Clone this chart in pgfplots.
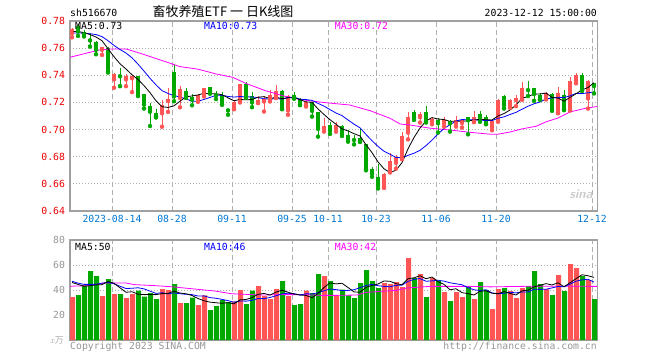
\documentclass[border=0pt]{standalone}
\usepackage{fontspec}
\usepackage{pgfplots}
\usepackage{pgfplotstable}
\pgfplotsset{compat=1.18}
\setmonofont{DejaVu Sans Mono}
\newfontfamily\cjk{Noto Sans CJK SC}
\definecolor{cred}{RGB}{255,85,85}
\definecolor{cgreen}{RGB}{0,168,0}
\definecolor{cframe}{RGB}{160,160,160}
\definecolor{cgrid}{RGB}{175,175,175}
\definecolor{cblue}{RGB}{0,0,255}
\definecolor{cmag}{RGB}{255,0,255}
\definecolor{ctick}{RGB}{0,120,210}
\definecolor{cylab}{RGB}{235,0,0}
\definecolor{cgray}{RGB}{150,150,150}
\newcommand\mf{\fontsize{9.8}{10}\selectfont\ttfamily}

\pgfplotstableread{
x O H L C V
0 0.7711 0.7746 0.7680 0.7740 34.4
5 0.7588 0.7612 0.7550 0.7605 35.2
7 0.7370 0.7415 0.7308 0.7410 36.8
9 0.7370 0.7410 0.7320 0.7395 33.6
10 0.7378 0.7405 0.7276 0.7392 36.8
15 0.7120 0.7218 0.7021 0.7181 40.8
16 0.7211 0.7310 0.7130 0.7223 40.0
18 0.7233 0.7319 0.7164 0.7301 29.6
21 0.7207 0.7260 0.7205 0.7257 28.0
22 0.7262 0.7310 0.7244 0.7309 35.7
27 0.7153 0.7220 0.7150 0.7200 31.0
28 0.7207 0.7338 0.7200 0.7333 40.0
31 0.7200 0.7249 0.7195 0.7220 43.2
32 0.7207 0.7244 0.7133 0.7225 35.2
33 0.7225 0.7289 0.7207 0.7257 32.8
34 0.7244 0.7331 0.7232 0.7286 40.8
36 0.7141 0.7257 0.7109 0.7249 35.2
39 0.7178 0.7215 0.7170 0.7202 39.5
42 0.7005 0.7084 0.6985 0.7027 51.2
44 0.7010 0.7059 0.6985 0.7034 35.7
52 0.6578 0.6681 0.6570 0.6671 45.6
53 0.6689 0.6824 0.6684 0.6768 44.8
54 0.6755 0.6812 0.6713 0.6800 46.4
55 0.6787 0.6985 0.6782 0.6953 42.4
56 0.6978 0.7126 0.6928 0.7096 65.6
58 0.7091 0.7133 0.7052 0.7116 52.8
60 0.7059 0.7096 0.7039 0.7076 49.6
62 0.7042 0.7096 0.7022 0.7071 38.4
64 0.7047 0.7101 0.7022 0.7071 38.4
65 0.7049 0.7081 0.7015 0.7069 34.4
67 0.7057 0.7138 0.7055 0.7089 32.8
70 0.7015 0.7065 0.6995 0.7062 24.8
71 0.7064 0.7227 0.7057 0.7217 40.8
73 0.7168 0.7222 0.7160 0.7217 39.2
74 0.7217 0.7254 0.7173 0.7230 33.6
75 0.7222 0.7353 0.7220 0.7304 41.6
79 0.7225 0.7279 0.7222 0.7267 40.8
81 0.7123 0.7316 0.7120 0.7267 52.0
83 0.7143 0.7390 0.7140 0.7358 60.8
84 0.7360 0.7420 0.7341 0.7402 57.6
86 0.7230 0.7365 0.7155 0.7358 48.0
}\up

\pgfplotstableread{
x O H L C V
1 0.7760 0.7780 0.7690 0.7723 36.0
2 0.7716 0.7731 0.7686 0.7701 43.7
3 0.7669 0.7711 0.7612 0.7657 55.2
4 0.7642 0.7650 0.7555 0.7588 51.2
6 0.7600 0.7605 0.7420 0.7427 48.8
8 0.7401 0.7452 0.7320 0.7393 36.8
11 0.7395 0.7398 0.7247 0.7254 39.5
12 0.7262 0.7265 0.7155 0.7185 34.7
13 0.7174 0.7198 0.7026 0.7132 37.6
14 0.7125 0.7152 0.7089 0.7095 32.8
17 0.7427 0.7478 0.7209 0.7245 44.8
19 0.7282 0.7307 0.7233 0.7253 29.6
20 0.7242 0.7262 0.7179 0.7220 34.0
23 0.7314 0.7316 0.7264 0.7281 24.0
24 0.7262 0.7281 0.7225 0.7252 27.2
25 0.7252 0.7277 0.7183 0.7185 32.0
26 0.7153 0.7155 0.7109 0.7141 30.4
29 0.7338 0.7348 0.7235 0.7237 28.8
30 0.7244 0.7277 0.7165 0.7200 39.5
35 0.7286 0.7294 0.7150 0.7153 47.2
37 0.7257 0.7277 0.7227 0.7232 28.0
38 0.7227 0.7230 0.7180 0.7183 28.8
40 0.7200 0.7202 0.7096 0.7138 37.6
41 0.7126 0.7128 0.6948 0.7005 52.8
43 0.7034 0.7059 0.6968 0.6992 47.2
45 0.7027 0.7034 0.6953 0.6968 40.3
46 0.6960 0.6997 0.6911 0.6931 35.7
47 0.6931 0.6960 0.6891 0.6923 33.6
48 0.6936 0.7010 0.6909 0.6911 45.6
49 0.6894 0.6896 0.6700 0.6708 56.0
50 0.6708 0.6725 0.6652 0.6676 47.2
51 0.6652 0.6750 0.6566 0.6590 41.6
57 0.7126 0.7141 0.7071 0.7091 49.6
59 0.7126 0.7175 0.7052 0.7059 34.4
61 0.7071 0.7084 0.6978 0.7047 47.2
63 0.7066 0.7071 0.6985 0.7047 31.2
66 0.7089 0.7091 0.6965 0.7069 43.2
68 0.7113 0.7136 0.7057 0.7089 46.4
69 0.7089 0.7106 0.7039 0.7044 40.0
72 0.7247 0.7254 0.7155 0.7180 41.6
76 0.7299 0.7358 0.7247 0.7291 43.2
77 0.7304 0.7306 0.7212 0.7262 55.2
78 0.7254 0.7267 0.7219 0.7222 44.8
80 0.7259 0.7272 0.7138 0.7143 36.0
82 0.7254 0.7291 0.7143 0.7148 39.2
85 0.7402 0.7415 0.7285 0.7286 51.2
87 0.7341 0.7346 0.7267 0.7321 32.8
}\down

\pgfplotstableread{
x ma5 ma10 vma5 vma10
0 0.7722 0.7712 46.0 47.0
1 0.7722 0.7712 44.5 45.5
2 0.7715 0.7710 43.0 44.5
3 0.7700 0.7706 43.5 44.5
4 0.7682 0.7700 44.1 44.5
5 0.7655 0.7685 44.3 45.5
6 0.7596 0.7655 46.8 46.0
7 0.7537 0.7620 45.4 45.0
8 0.7485 0.7590 41.8 43.0
9 0.7446 0.7564 38.2 41.2
10 0.7404 0.7529 38.6 41.4
11 0.7369 0.7482 36.7 41.8
12 0.7324 0.7431 36.3 40.9
13 0.7272 0.7378 36.4 39.1
14 0.7212 0.7329 36.3 37.3
15 0.7169 0.7287 37.1 37.8
16 0.7163 0.7266 37.2 36.9
17 0.7175 0.7250 39.2 37.7
18 0.7209 0.7240 37.6 37.0
19 0.7241 0.7226 37.0 36.6
20 0.7248 0.7209 35.6 36.3
21 0.7255 0.7209 33.2 35.2
22 0.7268 0.7222 31.4 35.3
23 0.7264 0.7237 30.3 33.9
24 0.7264 0.7252 29.8 33.4
25 0.7257 0.7253 29.4 32.5
26 0.7234 0.7244 29.9 31.5
27 0.7212 0.7240 28.9 30.2
28 0.7222 0.7243 32.1 31.2
29 0.7219 0.7242 32.4 31.1
30 0.7222 0.7240 33.9 31.7
31 0.7238 0.7236 36.5 33.2
32 0.7243 0.7227 37.3 33.1
33 0.7228 0.7225 35.9 34.0
34 0.7238 0.7228 38.3 35.4
35 0.7228 0.7225 39.8 36.9
36 0.7234 0.7236 38.2 37.4
37 0.7235 0.7239 36.8 37.1
38 0.7221 0.7224 36.0 36.0
39 0.7204 0.7221 35.7 37.0
40 0.7201 0.7215 33.8 36.8
41 0.7152 0.7193 37.3 37.8
42 0.7111 0.7173 42.0 39.4
43 0.7073 0.7147 45.7 40.8
44 0.7039 0.7122 44.9 40.3
45 0.7005 0.7103 45.4 39.6
46 0.6990 0.7071 42.0 39.7
47 0.6970 0.7040 38.5 40.2
48 0.6953 0.7013 38.2 41.9
49 0.6888 0.6964 42.2 43.6
50 0.6830 0.6918 43.6 44.5
51 0.6762 0.6876 44.8 43.4
52 0.6711 0.6840 47.2 42.9
53 0.6683 0.6818 47.0 42.6
54 0.6701 0.6795 45.1 43.7
55 0.6756 0.6793 44.2 43.9
56 0.6858 0.6810 49.0 46.9
57 0.6942 0.6826 49.8 48.5
58 0.7011 0.6847 51.4 49.2
59 0.7063 0.6882 49.0 47.0
60 0.7088 0.6922 50.4 47.3
61 0.7078 0.6968 46.7 47.8
62 0.7074 0.7008 44.5 47.1
63 0.7060 0.7036 40.2 45.8
64 0.7062 0.7063 41.0 45.0
65 0.7061 0.7074 37.9 44.2
66 0.7065 0.7072 37.1 41.9
67 0.7069 0.7071 36.0 40.2
68 0.7077 0.7069 39.0 39.6
69 0.7072 0.7067 39.4 40.2
70 0.7071 0.7066 37.4 37.7
71 0.7100 0.7083 37.0 37.0
72 0.7118 0.7094 38.7 37.4
73 0.7144 0.7111 37.3 38.2
74 0.7181 0.7127 36.0 37.7
75 0.7230 0.7150 39.4 38.4
76 0.7244 0.7172 39.8 38.4
77 0.7261 0.7190 42.6 40.6
78 0.7262 0.7203 43.7 40.5
79 0.7269 0.7225 45.1 40.6
80 0.7237 0.7233 44.0 41.7
81 0.7232 0.7238 45.8 42.8
82 0.7209 0.7235 42.6 42.6
83 0.7237 0.7249 45.8 44.7
84 0.7264 0.7266 49.1 47.1
85 0.7292 0.7265 52.2 48.1
86 0.7310 0.7271 51.4 48.6
87 0.7345 0.7277 50.1 46.3
}\ma

\pgfplotsset{
  chartbase/.style={
    scale only axis, width=527.5pt,
    xmin=-0.3333, xmax=87.5833,
    axis line style={cframe, line width=1.4pt},
    tick style={draw=none},
    xtick={6.6667,16.6667,26.6667,36.6667,42.6667,50.6667,60.6667,70.6667,86.6667},
    xmajorgrids, ymajorgrids,
    x grid style={cgrid, line width=1pt, dash pattern=on 5pt off 3pt},
    y grid style={cgrid, line width=0.8pt, dash pattern=on 1pt off 2pt},
    yticklabel style={font=\mf, anchor=east, xshift=-1.5pt},
  },
  wick/.style={only marks, mark=none, color=#1,
    error bars/.cd, y dir=plus, y explicit, error mark=none,
    error bar style={draw=#1, line width=1pt}},
  body/.style={only marks, mark=none, color=#1,
    error bars/.cd, y dir=plus, y explicit, error mark=none,
    error bar style={draw=#1, line width=4.2pt}},
}

\begin{document}
\begin{tikzpicture}
\path[use as bounding box] (0,0) rectangle (660pt,360pt);

\begin{axis}[chartbase, at={(70pt,149pt)}, anchor=south west, height=190pt,
  ymin=0.64, ymax=0.78,
  ytick={0.64,0.66,0.68,0.70,0.72,0.74,0.76,0.78},
  yticklabels={0.64,0.66,0.68,0.70,0.72,0.74,0.76,0.78},
  yticklabel style={text=cylab},
  xticklabels={2023-08-14,08-28,09-11,09-25,10-11,10-23,11-06,11-20,12-12},
  xticklabel style={font=\mf, text=ctick, yshift=-1pt},
]
\addplot[wick=cred] table[x=x, y=L, y error expr=\thisrow{H}-\thisrow{L}] {\up};
\addplot[wick=cgreen] table[x=x, y=L, y error expr=\thisrow{H}-\thisrow{L}] {\down};
\addplot[body=cred] table[x=x, y=O, y error expr=\thisrow{C}-\thisrow{O}] {\up};
\addplot[body=cgreen] table[x=x, y=C, y error expr=\thisrow{O}-\thisrow{C}] {\down};
\addplot[cmag, line width=0.8pt, mark=none] coordinates {
(-0.3,0.7533) (2.4,0.7563) (4.7,0.7588) (6.3,0.7593) (9.1,0.7593) (11.3,0.7563)
(14.7,0.7513) (18,0.7464) (21,0.7445) (24,0.7410) (26.8,0.7385) (29,0.7340)
(32.2,0.7287) (35.5,0.7245) (38,0.7222) (41.3,0.7203) (43.2,0.7194) (46.3,0.7181)
(49.7,0.7139) (53,0.7083) (54.7,0.7041) (56.3,0.7034) (59.7,0.7010) (63,0.6997)
(66.3,0.6980) (69.7,0.6966) (71,0.6966) (73,0.6982) (75,0.7005) (77.4,0.7025)
(79,0.7057) (81,0.7085) (83,0.7130) (85.4,0.7155) (87.5,0.7170)};
\addplot[cblue, line width=0.8pt, mark=none] table[x=x, y=ma10] {\ma};
\addplot[black, line width=0.8pt, mark=none] table[x=x, y=ma5] {\ma};
\end{axis}

\begin{axis}[chartbase, at={(70pt,20pt)}, anchor=south west, height=100pt,
  ymin=0, ymax=80,
  ytick={20,40,60,80},
  yticklabels={20,40,60,80},
  yticklabel style={text=cgray},
  xticklabels={},
]
\addplot[ybar, bar width=5pt, bar shift=0.5pt, fill=cred, draw=none] table[x=x, y=V] {\up};
\addplot[ybar, bar width=5pt, bar shift=0.5pt, fill=cgreen, draw=none] table[x=x, y=V] {\down};
\addplot[cmag, line width=0.8pt, mark=none] coordinates {
(-0.3,43) (2.7,43.5) (5.4,45.6) (9,45.6) (10.4,44.3) (13.8,43.5) (16.6,42.6)
(20.4,40.8) (23.8,39.2) (26.6,37) (31.6,36) (34.9,36.3) (38.2,36.3) (41.6,35.7)
(44,35.7) (47.5,36) (49,38.1) (51.3,38.9) (54.1,39.7) (55.8,41.6) (59.7,42.9)
(66.3,42.9) (69.7,42.5) (76.3,43) (81.9,43) (87.5,42.9)};
\addplot[cblue, line width=0.8pt, mark=none] table[x=x, y=vma10] {\ma};
\addplot[black, line width=0.8pt, mark=none] table[x=x, y=vma5] {\ma};
\end{axis}

% header
\node[anchor=base west, inner sep=0, font=\mf] at (70pt,343.5pt) {sh516670};
\node[anchor=base, inner sep=0, font=\cjk\fontsize{13}{13}\selectfont] at (223pt,344pt) {畜牧养殖ETF 一 日K线图};
\node[anchor=base east, inner sep=0, font=\mf] at (597pt,344pt) {2023-12-12 15:00:00};
% legends main
\node[anchor=north west, inner sep=0, font=\mf] at (75pt,337.5pt) {MA5:0.73};
\node[anchor=north west, inner sep=0, font=\mf, text=cblue] at (204pt,337.5pt) {MA10:0.73};
\node[anchor=north west, inner sep=0, font=\mf, text=cmag] at (334.7pt,337.5pt) {MA30:0.72};
% legends volume
\node[anchor=north west, inner sep=0, font=\mf] at (75pt,116.7pt) {MA5:50};
\node[anchor=north west, inner sep=0, font=\mf, text=cblue] at (204pt,116.7pt) {MA10:46};
\node[anchor=north west, inner sep=0, font=\mf, text=cmag] at (334.7pt,116.7pt) {MA30:42};
% volume unit
\node[anchor=east, inner sep=0, text=cgray!80, font=\fontsize{9}{9}\selectfont] at (64pt,19.5pt) {\textit{x}{\cjk 万}};
% footer
\node[anchor=base west, inner sep=0, font=\mf, text=cgray] at (70pt,11pt) {Copyright 2023 SINA.COM};
\node[anchor=base east, inner sep=0, font=\mf, text=cgray] at (597pt,11pt) {http://finance.sina.com.cn};
% watermark
\node[text=gray!40, font=\sffamily\bfseries\itshape\fontsize{13}{13}\selectfont] at (581pt,166pt) {sina};
\end{tikzpicture}
\end{document}
